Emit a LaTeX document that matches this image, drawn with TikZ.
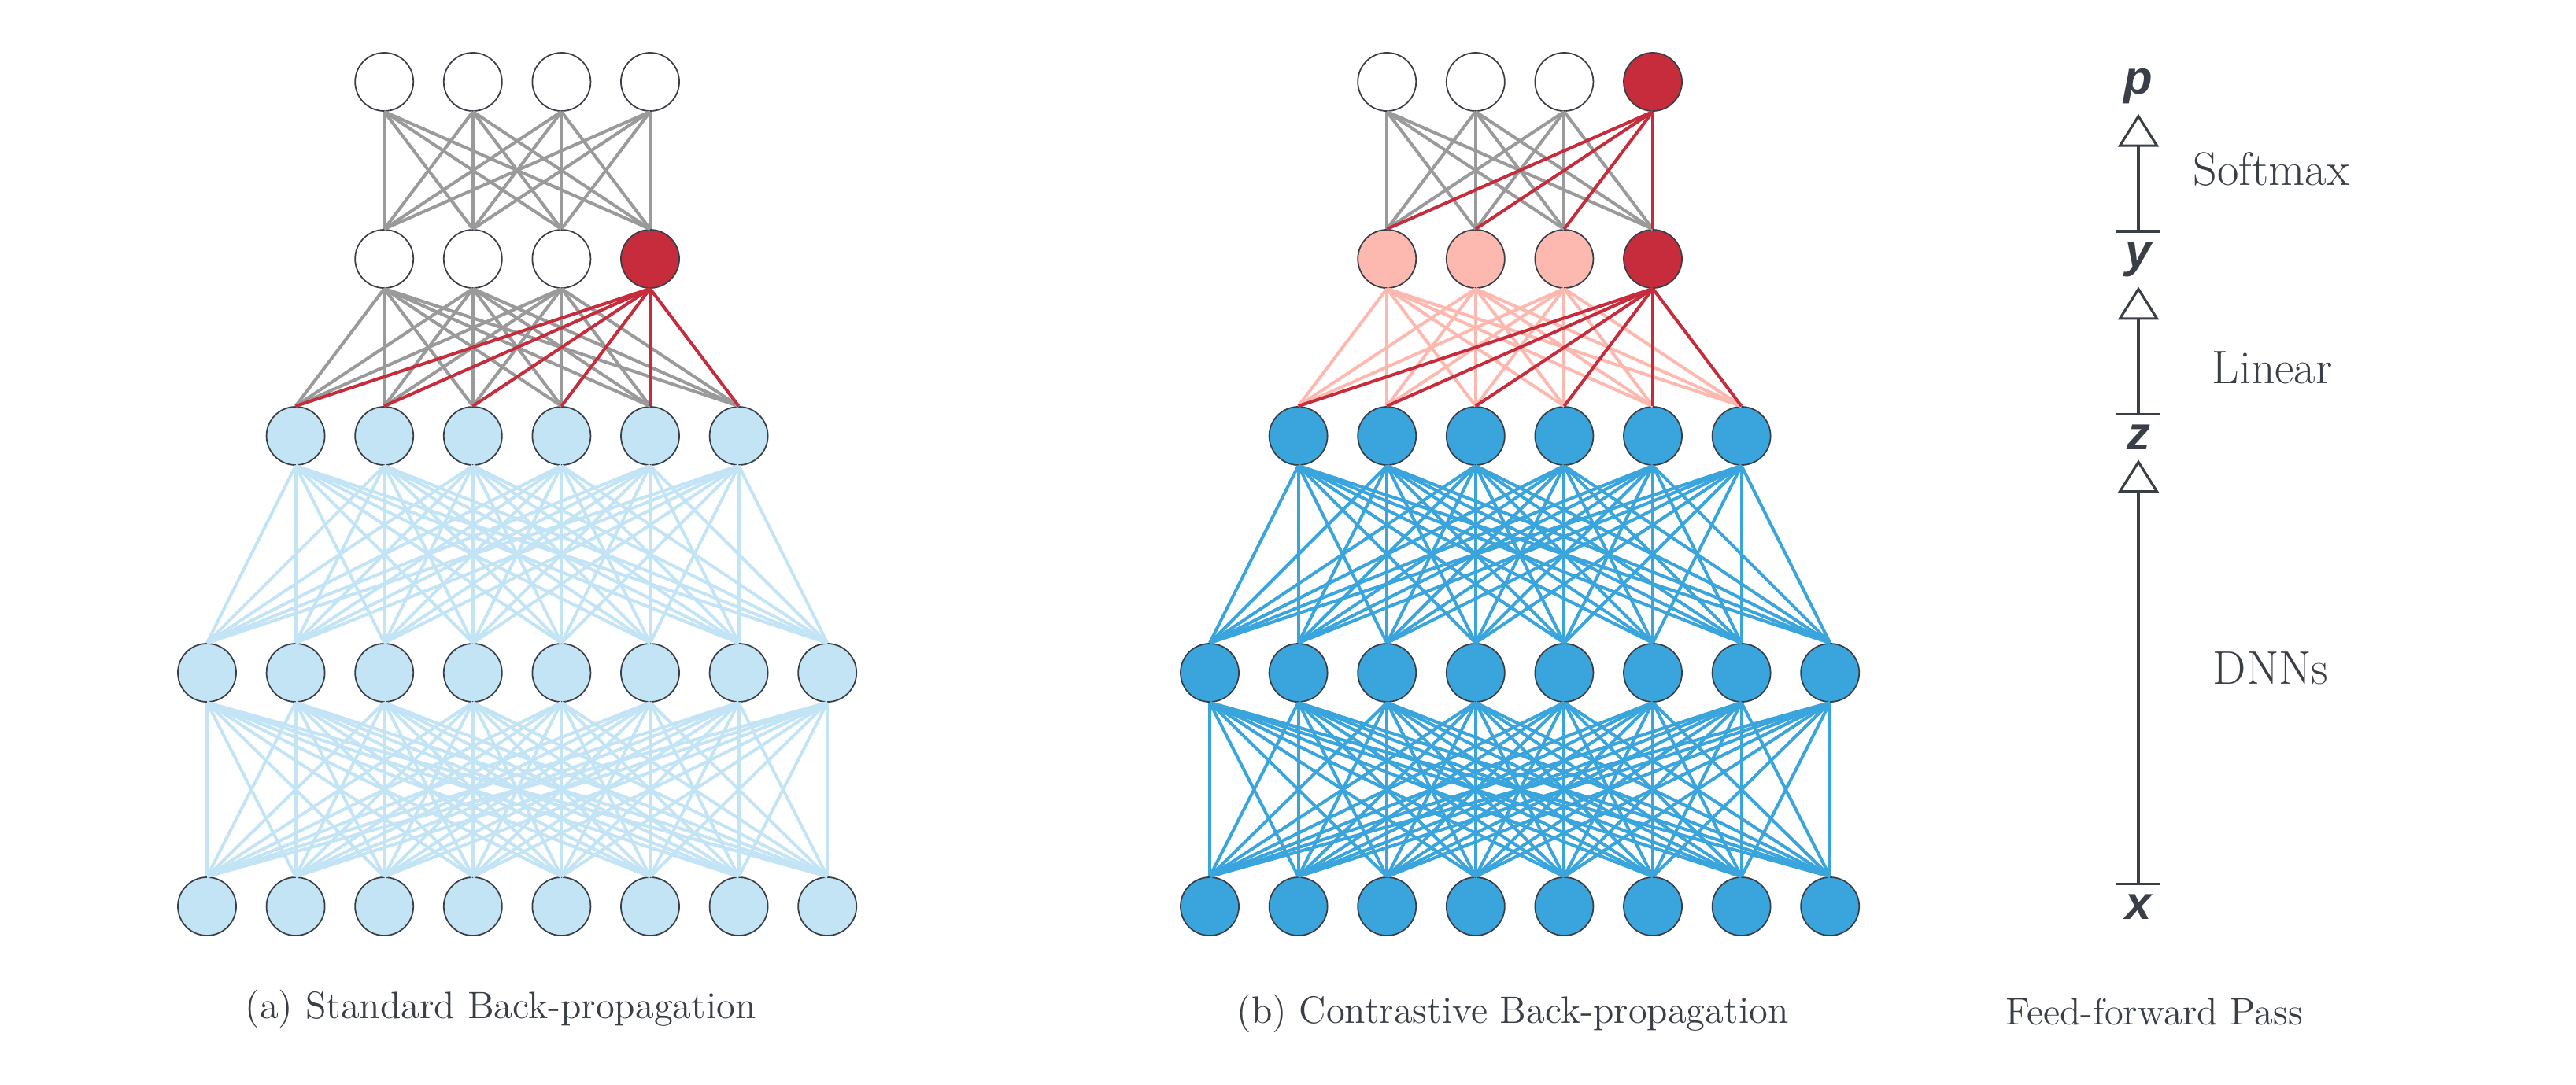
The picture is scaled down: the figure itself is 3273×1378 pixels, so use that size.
\documentclass[tikz,border=0pt]{standalone}
\usepackage{fontspec}
\setsansfont{Liberation Sans}
\usepackage{xcolor}
\usetikzlibrary{arrows.meta}

\definecolor{lightblue}{HTML}{C3E4F5}
\definecolor{deepblue}{HTML}{3AA4DC}
\definecolor{darkred}{HTML}{C62C3B}
\definecolor{pinkish}{HTML}{FDB9B0}
\definecolor{edgegray}{HTML}{9A9A9A}
\definecolor{inkgray}{HTML}{3A3F47}

\begin{document}
\begin{tikzpicture}[x=0.01cm, y=-0.01cm]
        \tikzset{neuron style/.style={draw=inkgray, line width=0.5pt, circle, minimum size=0.74cm, inner sep=0pt}}
        \tikzset{edge style/.style={line width=1.15pt}}
        \tikzset{caption style/.style={text=inkgray, anchor=base, font=\fontsize{13.8}{16}\selectfont}}
        \tikzset{layer style/.style={text=inkgray, anchor=base, font=\fontsize{17}{20}\selectfont}}
        \tikzset{var style/.style={text=inkgray, font=\fontsize{17}{20}\selectfont\sffamily\bfseries\itshape}}
        \tikzset{axis style/.style={draw=inkgray, line width=0.9pt, {Bar[width=0.56cm]}-{Triangle[open, length=0.42cm, width=0.52cm]}}}

        \useasboundingbox (0,0) rectangle (3273,1378);

        % (a) standard back-propagation
        \foreach \i in {1,...,8} {
            \node[neuron style, fill=lightblue] (ax\i) at ({263+112.6*(\i-1)}, 1152) {};
            \node[neuron style, fill=lightblue] (ah\i) at ({263+112.6*(\i-1)}, 855) {};
        }
        \foreach \i in {1,...,6}
            \node[neuron style, fill=lightblue] (az\i) at ({263+112.6*\i}, 554) {};
        \foreach \i in {1,...,4}
            \node[neuron style, fill=white] (ap\i) at ({263+112.6*(\i+1)}, 104) {};
        \foreach \i in {1,...,3}
            \node[neuron style, fill=white] (ay\i) at ({263+112.6*(\i+1)}, 329) {};
        \node[neuron style, fill=darkred] (ay4) at ({263+112.6*5}, 329) {};

        \foreach \i in {1,...,4}
            \foreach \j in {1,...,4}
                \draw[edge style, edgegray] (ap\i.south) -- (ay\j.north);
        \foreach \i in {1,...,3}
            \foreach \j in {1,...,6}
                \draw[edge style, edgegray] (ay\i.south) -- (az\j.north);
        \foreach \j in {1,...,6}
            \draw[edge style, darkred] (ay4.south) -- (az\j.north);
        \foreach \i in {1,...,6}
            \foreach \j in {1,...,8}
                \draw[edge style, lightblue] (az\i.south) -- (ah\j.north);
        \foreach \i in {1,...,8}
            \foreach \j in {1,...,8}
                \draw[edge style, lightblue] (ah\i.south) -- (ax\j.north);

        \node[caption style] (capa) at (636, 1294) {(a) Standard Back-propagation};

        % (b) contrastive back-propagation
        \foreach \i in {1,...,8} {
            \node[neuron style, fill=deepblue] (bx\i) at ({1537+112.6*(\i-1)}, 1152) {};
            \node[neuron style, fill=deepblue] (bh\i) at ({1537+112.6*(\i-1)}, 855) {};
        }
        \foreach \i in {1,...,6}
            \node[neuron style, fill=deepblue] (bz\i) at ({1537+112.6*\i}, 554) {};
        \foreach \i in {1,...,3} {
            \node[neuron style, fill=white] (bp\i) at ({1537+112.6*(\i+1)}, 104) {};
            \node[neuron style, fill=pinkish] (by\i) at ({1537+112.6*(\i+1)}, 329) {};
        }
        \node[neuron style, fill=darkred] (bp4) at ({1537+112.6*5}, 104) {};
        \node[neuron style, fill=darkred] (by4) at ({1537+112.6*5}, 329) {};

        \foreach \i in {1,...,3}
            \foreach \j in {1,...,4}
                \draw[edge style, edgegray] (bp\i.south) -- (by\j.north);
        \foreach \j in {1,...,4}
            \draw[edge style, darkred] (bp4.south) -- (by\j.north);
        \foreach \i in {1,...,3}
            \foreach \j in {1,...,6}
                \draw[edge style, pinkish] (by\i.south) -- (bz\j.north);
        \foreach \j in {1,...,6}
            \draw[edge style, darkred] (by4.south) -- (bz\j.north);
        \foreach \i in {1,...,6}
            \foreach \j in {1,...,8}
                \draw[edge style, deepblue] (bz\i.south) -- (bh\j.north);
        \foreach \i in {1,...,8}
            \foreach \j in {1,...,8}
                \draw[edge style, deepblue] (bh\i.south) -- (bx\j.north);

        \node[caption style] (capb) at (1922, 1300) {(b) Contrastive Back-propagation};

        % feed-forward pass
        \node[var style] (vx) at (2717, 1153) {x};
        \node[var style] (vz) at (2717, 556) {z};
        \node[var style] (vy) at (2717, 330) {y};
        \node[var style] (vp) at (2717, 110) {p};

        \draw[axis style] (vx.north) -- (vz.south);
        \draw[axis style] (vz.north) -- (vy.south);
        \draw[axis style] (vy.north) -- (vp.south);

        \node[layer style] (lsoftmax) at (2886, 235) {Softmax};
        \node[layer style] (llinear) at (2887, 487) {Linear};
        \node[layer style] (ldnn) at (2885, 869) {DNNs};

        \node[caption style] (capc) at (2737, 1302) {Feed-forward Pass};
    \end{tikzpicture}
\end{document}
